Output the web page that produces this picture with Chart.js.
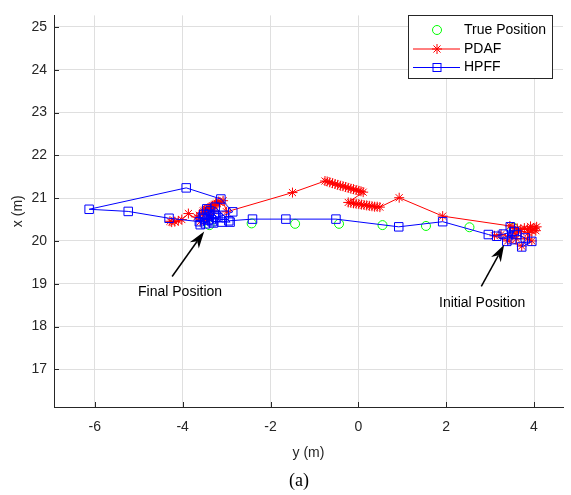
<!DOCTYPE html>
<html lang="en">
<head>
<meta charset="UTF-8">
<title>PDAF vs HPFF track</title>
<script src="https://cdn.jsdelivr.net/npm/chart.js"></script>
<style>
  html, body { margin: 0; padding: 0; background: #fff; }
  #wrap { position: relative; width: 571px; height: 495px; }
</style>
</head>
<body>
<div id="wrap"><canvas id="trackChart"></canvas></div>
<script>
// horizontal axis is "y (m)", vertical axis is "x (m)"
const truePosY = [3.53, 2.53, 1.54, 0.55, -0.44, -1.44, -2.43, -3.39];
const truePosX = [20.31, 20.32, 20.35, 20.37, 20.40, 20.40, 20.41, 20.37];

const pdafY = [3.72, 3.40, 3.10, 3.25, 3.45, 3.60, 3.85, 3.95, 3.55, 3.70, 3.88, 3.95, 4.02, 4.06, 4.04, 3.98, 3.92, 3.85, 3.78, 3.70, 3.62, 3.52, 3.45,
  1.92, 0.93,
  0.49, 0.43, 0.37, 0.31, 0.25, 0.19, 0.13, 0.07, 0.01, -0.05, -0.11, -0.17, -0.23,
  0.11, 0.06, 0.01, -0.05, -0.11, -0.17, -0.23, -0.29, -0.35, -0.41, -0.47, -0.53, -0.59, -0.65, -0.71, -0.76,
  -1.50,
  -3.00, -3.08, -3.15, -3.18, -3.22, -3.25, -3.28, -3.32, -3.35, -3.38, -3.42, -3.46, -3.50, -3.53, -3.30, -3.40, -3.55, -3.62, -3.68, -3.45, -3.60, -3.87, -4.02, -4.10, -4.18, -4.25, -4.29];
const pdafX = [19.88, 20.00, 20.12, 20.15, 20.10, 20.05, 20.05, 20.00, 20.18, 20.22, 20.20, 20.24, 20.30, 20.33, 20.24, 20.28, 20.34, 20.27, 20.30, 20.27, 20.29, 20.32, 20.35,
  20.58, 21.01,
  20.79, 20.80, 20.80, 20.81, 20.82, 20.83, 20.84, 20.85, 20.86, 20.87, 20.88, 20.89, 20.90,
  21.14, 21.16, 21.17, 21.19, 21.21, 21.22, 21.24, 21.26, 21.28, 21.29, 21.31, 21.33, 21.35, 21.37, 21.39, 21.40,
  21.13,
  20.68, 20.94, 20.90, 20.92, 20.88, 20.86, 20.84, 20.82, 20.80, 20.78, 20.76, 20.74, 20.72, 20.70, 20.70, 20.62, 20.66, 20.60, 20.56, 20.50, 20.45, 20.64, 20.50, 20.47, 20.45, 20.44, 20.46];

const hpffY = [3.95, 3.72, 3.80, 3.61, 3.49, 3.46, 3.38, 3.55, 3.30, 3.15, 2.96,
  1.92, 0.92, -0.51, -1.65, -2.41,
  -2.95, -3.10, -3.25, -3.05, -2.86, -3.13, -3.92, -6.13, -5.24, -4.31,
  -3.62, -3.55, -3.48, -3.40, -3.35, -3.30, -3.45, -3.20, -3.60, -3.52, -3.38, -3.28, -3.42, -3.50, -3.26, -2.92, -3.33];
const hpffX = [19.99, 19.86, 20.07, 20.15, 20.03, 20.33, 19.99, 20.22, 20.16, 20.11, 20.15,
  20.45, 20.33, 20.51, 20.51, 20.51,
  20.47, 20.44, 20.55, 20.60, 20.68, 20.98, 21.24, 20.74, 20.69, 20.53,
  20.45, 20.55, 20.40, 20.62, 20.50, 20.42, 20.75, 20.55, 20.38, 20.62, 20.70, 20.62, 20.48, 20.52, 20.79, 20.44, 20.45];

const yTicks = [-6, -4, -2, 0, 2, 4];
const xTicks = [17, 18, 19, 20, 21, 22, 23, 24, 25];
const seriesNames = ['True Position', 'PDAF', 'HPFF'];

// text arrows, in data units (y, x)
const noteText = ['Final Position', 'Initial Position'];
const noteTip = [[-3.51, 20.22], [3.32, 19.91]];
const noteTail = [[-4.24, 19.17], [2.80, 18.94]];
const noteLabel = [[-4.06, 18.80], [2.82, 18.55]];

const toPts = (ys, xs) => ys.map((v, i) => ({ x: v, y: xs[i] }));

const FONT = '"Liberation Sans", Arial, Helvetica, sans-serif';
const AXIS = '#262626';

function drawStar(ctx, cx, cy, r) {
  const d = Math.SQRT1_2 * r;
  ctx.beginPath();
  ctx.moveTo(cx - r, cy); ctx.lineTo(cx + r, cy);
  ctx.moveTo(cx, cy - r); ctx.lineTo(cx, cy + r);
  ctx.moveTo(cx - d, cy - d); ctx.lineTo(cx + d, cy + d);
  ctx.moveTo(cx - d, cy + d); ctx.lineTo(cx + d, cy - d);
  ctx.stroke();
}

function drawArrow(ctx, x0, y0, x1, y1) {
  const ang = Math.atan2(y1 - y0, x1 - x0);
  const len = 17, half = 5.5, notch = 12;
  const c = Math.cos(ang), s = Math.sin(ang);
  ctx.beginPath();
  ctx.moveTo(x0, y0);
  ctx.lineTo(x1 - c * notch, y1 - s * notch);
  ctx.stroke();
  ctx.beginPath();
  ctx.moveTo(x1, y1);
  ctx.lineTo(x1 - c * len - s * half, y1 - s * len + c * half);
  ctx.lineTo(x1 - c * notch, y1 - s * notch);
  ctx.lineTo(x1 - c * len + s * half, y1 - s * len - c * half);
  ctx.closePath();
  ctx.fill();
}

const extras = {
  id: 'extras',
  afterDraw(chart) {
    const { ctx, chartArea: a, scales: { x, y } } = chart;
    ctx.save();

    // inward tick marks
    ctx.strokeStyle = AXIS;
    ctx.lineWidth = 1;
    ctx.beginPath();
    yTicks.forEach(v => {
      const px = Math.round(x.getPixelForValue(v)) + 0.5;
      ctx.moveTo(px, a.bottom); ctx.lineTo(px, a.bottom - 5);
    });
    xTicks.forEach(v => {
      const py = Math.round(y.getPixelForValue(v)) + 0.5;
      ctx.moveTo(a.left, py); ctx.lineTo(a.left + 5, py);
    });
    ctx.stroke();

    // annotations
    ctx.strokeStyle = '#000';
    ctx.fillStyle = '#000';
    ctx.lineWidth = 1.5;
    ctx.font = '14px ' + FONT;
    ctx.textAlign = 'center';
    ctx.textBaseline = 'middle';
    noteText.forEach((t, i) => {
      drawArrow(ctx,
        x.getPixelForValue(noteTail[i][0]), y.getPixelForValue(noteTail[i][1]),
        x.getPixelForValue(noteTip[i][0]), y.getPixelForValue(noteTip[i][1]));
      ctx.fillText(t, x.getPixelForValue(noteLabel[i][0]), y.getPixelForValue(noteLabel[i][1]));
    });

    // legend box
    const bx = 408.5, by = 15.5, bw = 144, bh = 63;
    ctx.fillStyle = '#fff';
    ctx.fillRect(bx, by, bw, bh);
    ctx.strokeStyle = AXIS;
    ctx.lineWidth = 1;
    ctx.strokeRect(bx, by, bw, bh);
    const rows = [30, 49, 67.5];
    const mx = 437, lx0 = 413, lx1 = 460;
    // true position
    ctx.strokeStyle = '#00ff00';
    ctx.beginPath(); ctx.arc(mx, rows[0], 4.5, 0, Math.PI * 2); ctx.stroke();
    // PDAF
    ctx.strokeStyle = '#ff0000';
    ctx.beginPath(); ctx.moveTo(lx0, rows[1]); ctx.lineTo(lx1, rows[1]); ctx.stroke();
    drawStar(ctx, mx, rows[1], 5);
    // HPFF
    ctx.strokeStyle = '#0000ff';
    ctx.beginPath(); ctx.moveTo(lx0, rows[2]); ctx.lineTo(lx1, rows[2]); ctx.stroke();
    ctx.strokeRect(mx - 4, rows[2] - 4, 8, 8);
    ctx.fillStyle = '#000';
    ctx.textAlign = 'left';
    seriesNames.forEach((n, i) => ctx.fillText(n, 464, rows[i]));

    // sub-figure caption
    ctx.font = '18px "Liberation Serif", "Times New Roman", serif';
    ctx.textAlign = 'center';
    ctx.fillText('(a)', 299, 481);

    ctx.restore();
  }
};

new Chart(document.getElementById('trackChart'), {
  type: 'scatter',
  data: {
    datasets: [
      {
        label: seriesNames[0],
        data: toPts(truePosY, truePosX),
        showLine: false,
        pointStyle: 'circle',
        pointRadius: 4.5,
        pointBorderWidth: 1,
        pointBorderColor: '#00ff00',
        pointBackgroundColor: 'rgba(0,0,0,0)',
        order: 3
      },
      {
        label: seriesNames[1],
        data: toPts(pdafY, pdafX),
        showLine: true,
        borderColor: '#ff0000',
        borderWidth: 1,
        tension: 0,
        pointStyle: 'star',
        pointRadius: 5,
        pointBorderWidth: 1,
        pointBorderColor: '#ff0000',
        pointBackgroundColor: '#ff0000',
        order: 2
      },
      {
        label: seriesNames[2],
        data: toPts(hpffY, hpffX),
        showLine: true,
        borderColor: '#0000ff',
        borderWidth: 1,
        tension: 0,
        pointStyle: 'rect',
        pointRadius: 6,
        pointBorderWidth: 1,
        pointBorderColor: '#0000ff',
        pointBackgroundColor: 'rgba(0,0,0,0)',
        order: 1
      }
    ]
  },
  options: {
    responsive: true,
    maintainAspectRatio: false,
    animation: false,
    events: [],
    layout: { padding: { top: 5, right: 8, bottom: 0, left: 0 } },
    plugins: { legend: { display: false }, tooltip: { enabled: false } },
    scales: {
      x: {
        type: 'linear',
        min: -6.93,
        max: 4.66,
        afterFit: s => { s.height = 88; },
        afterBuildTicks: s => { s.ticks = yTicks.map(v => ({ value: v })); },
        grid: { color: '#dfdfdf', drawTicks: false },
        border: { display: true, color: AXIS, width: 1 },
        ticks: { padding: 12, color: AXIS, font: { family: FONT, size: 14 }, callback: v => String(v) },
        title: { display: true, text: 'y (m)', color: AXIS, font: { family: FONT, size: 14 }, padding: { top: 0, bottom: 33 } }
      },
      y: {
        type: 'linear',
        min: 16.12,
        max: 25.27,
        afterFit: s => { s.width = 54; },
        afterBuildTicks: s => { s.ticks = xTicks.map(v => ({ value: v })); },
        grid: { color: '#dfdfdf', drawTicks: false },
        border: { display: true, color: AXIS, width: 1 },
        ticks: { padding: 7, color: AXIS, font: { family: FONT, size: 14 }, callback: v => String(v) },
        title: { display: true, text: 'x (m)', color: AXIS, font: { family: FONT, size: 14 }, padding: { top: 10, bottom: 0 } }
      }
    }
  },
  plugins: [extras]
});
</script>
</body>
</html>
